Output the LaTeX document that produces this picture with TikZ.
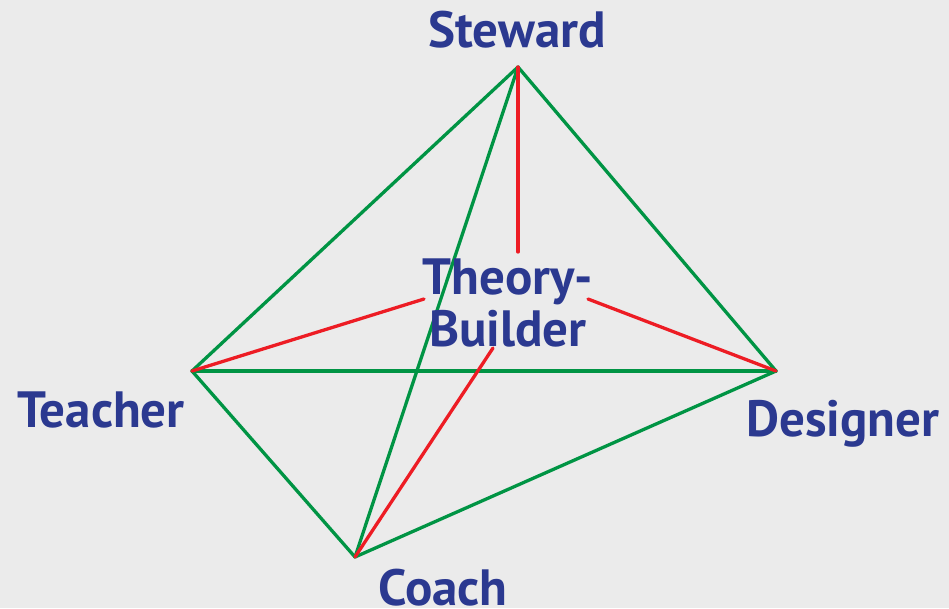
\documentclass[tikz,border=0pt]{standalone}
\usepackage{fontspec}
\setmainfont{PT Sans}
\definecolor{bgc}{HTML}{EBEBEB}
\definecolor{txtblue}{HTML}{2B3990}
\definecolor{lgreen}{HTML}{009444}
\definecolor{lred}{HTML}{ED1C24}
\begin{document}
\begin{tikzpicture}[x=1pt,y=-1pt,
  lbl/.style={text=txtblue,font=\fontsize{51}{52}\selectfont\bfseries,inner sep=0pt,align=center},
  gline/.style={draw=lgreen,line width=3.3pt,line cap=round,line join=round},
  rline/.style={draw=lred,line width=3.3pt,line cap=round}]
\fill[bgc] (0,0) rectangle (949,608);
\useasboundingbox (0,0) rectangle (949,608);
% vertices
\coordinate (S) at (518,67);
\coordinate (T) at (192,371);
\coordinate (D) at (776,371);
\coordinate (C) at (355,557);
% red ends
\coordinate (rs) at (518,252);
\coordinate (rt) at (424,299);
\coordinate (rd) at (588,299);
\coordinate (rc) at (493,348);
% green edges
\draw[gline] (S) -- (T);
\draw[gline] (S) -- (D);
\draw[gline] (T) -- (D);
\draw[gline] (T) -- (C);
\draw[gline] (C) -- (D);
\draw[gline] (S) -- (C);
% red edges
\draw[rline] (S) -- (rs);
\draw[rline] (T) -- (rt);
\draw[rline] (D) -- (rd);
\draw[rline] (C) -- (rc);
% labels
\node[lbl] (steward) at (517,30) {Steward};
\node[lbl] (theory) at (508,303) {Theory-\\Builder};
\node[lbl] (teacher) at (101,410) {Teacher};
\node[lbl] (designer) at (843,424) {Designer};
\node[lbl] (coach) at (443,588) {Coach};
\end{tikzpicture}
\end{document}
